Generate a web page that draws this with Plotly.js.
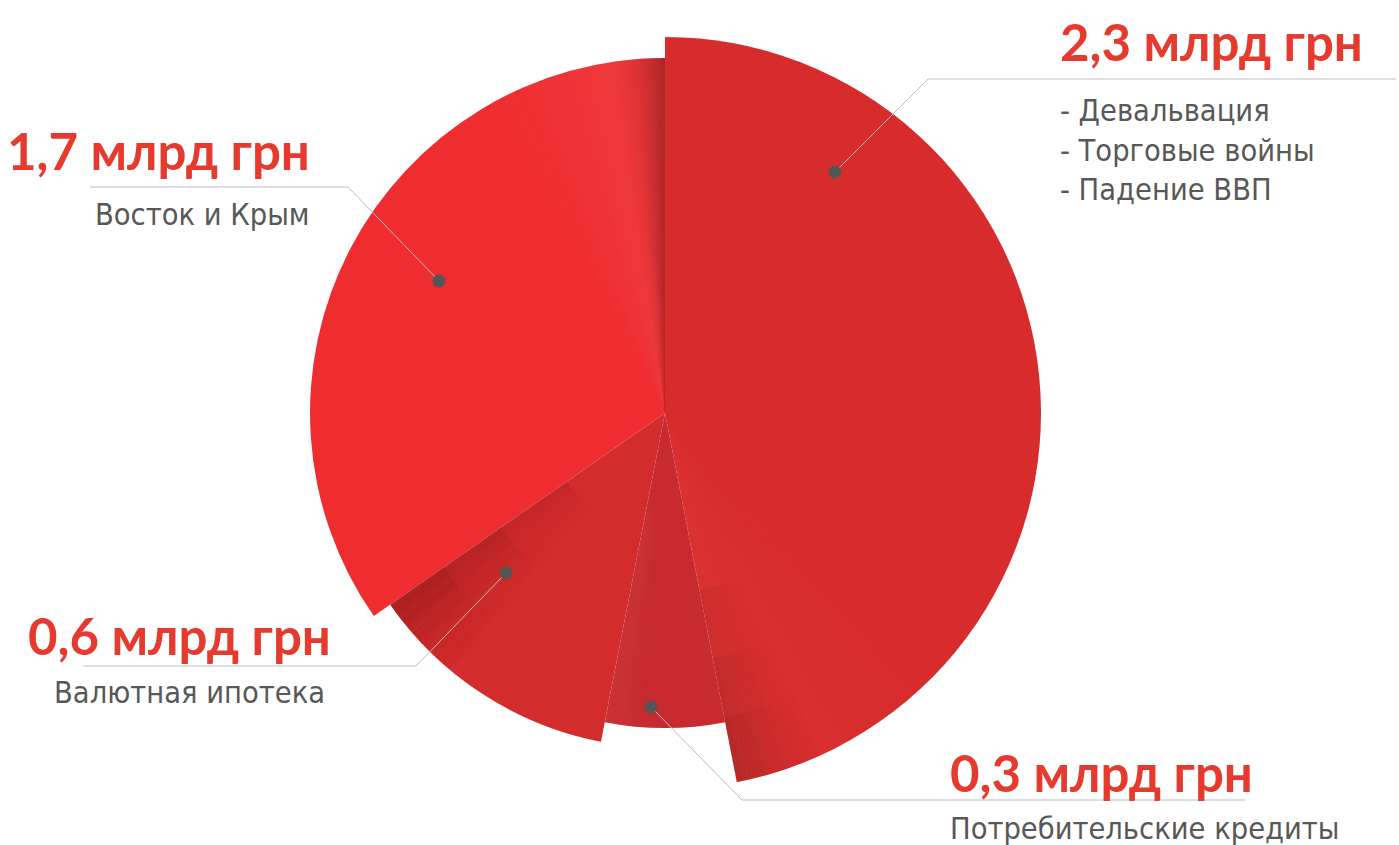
<!DOCTYPE html>
<html>
<head>
<meta charset="utf-8">
<script src="https://cdn.plot.ly/plotly-3.0.1.min.js"></script>
<style>
html,body{margin:0;padding:0;background:#fff;}
#chart{width:1399px;height:845px;}
</style>
</head>
<body>
<div id="chart"></div>
<script>
// ---- data ----
const categories = ['Девальвация, торговые войны, падение ВВП', 'Потребительские кредиты', 'Валютная ипотека', 'Восток и Крым'];
const values = [2.3, 0.3, 0.6, 1.7];
const valueLabels = ['2,3 млрд грн', '0,3 млрд грн', '0,6 млрд грн', '1,7 млрд грн'];
const subLabels = ['- Девальвация<br>- Торговые войны<br>- Падение ВВП', 'Потребительские кредиты', 'Валютная ипотека', 'Восток и Крым'];

// ---- style ----
const sliceRadius = [376, 315, 335, 355];
const sliceColors = ['#d82b2b', '#c72a2f', '#d32c2d', '#ef2d30'];
const W = 1399, H = 845;
const CX = 665, CY = 413, RMAX = 413;

const total = values.reduce((a, b) => a + b, 0);
const widths = values.map(v => v / total * 360);
const starts = [];
let acc = 0;
widths.forEach(w => { starts.push(acc); acc += w; });
const centers = starts.map((s, i) => s + widths[i] / 2);

const traces = [{
  type: 'barpolar',
  r: sliceRadius,
  theta: centers,
  width: widths,
  marker: { color: sliceColors, line: { width: 0 } },
  hoverinfo: 'text',
  text: categories.map((c, i) => c + ': ' + valueLabels[i]),
  showlegend: false
}];

// shading overlays derived from slice boundaries
function shade(sliceIdx, span, steps, maxOp, rBase, color, pw) {
  const th = [], w = [], op = [], r = [], base = [];
  const end = starts[sliceIdx] + widths[sliceIdx];
  const step = span / steps;
  for (let k = 0; k < steps; k++) {
    const a0 = end - span + k * step;
    th.push(a0 + step / 2);
    w.push(step * 1.02);
    op.push(maxOp * Math.pow((k + 1) / steps, pw || 1.6));
    r.push(sliceRadius[sliceIdx] - rBase);
    base.push(rBase);
  }
  return {
    type: 'barpolar', r: r, base: base, theta: th, width: w,
    marker: { color: color, opacity: op, line: { width: 0 } },
    hoverinfo: 'skip', showlegend: false
  };
}
// slice 4: lighter band then dark edge near the top boundary
traces.push(shade(3, 30, 30, 0.25, 0, '#f06a6a', 1));
traces.push(shade(3, 9, 18, 0.55, 0, '#7a1515', 1.8));
// slice 3 dark near boundary with slice 4 (outer part)
[120, 200, 270].forEach(b => traces.push(shade(2, 16, 20, 0.17, b, '#7a1515', 1.6)));
// slice 1 dark near its end (outer bottom)
[180, 250, 310].forEach(b => traces.push(shade(0, 14, 20, 0.15, b, '#7a1515', 1.6)));
// slice 1 light band near end
traces.push(shade(0, 40, 30, 0.10, 0, '#f07070', 1));
// slice 2 lighter left part
traces.push(shade(1, 8, 12, 0.15, 100, '#e06060', 1));

const px = x => x / W;
const py = y => 1 - y / H;

const leaders = [
  [[835, 172], [928, 79], [1396, 79]],
  [[651, 707], [742, 800], [1245, 800]],
  [[506, 573], [416, 666], [83, 666]],
  [[439, 281], [348, 187], [90, 187]]
];
const shapes = [];
leaders.forEach(pts => {
  const path = 'M' + pts.map(p => px(p[0]) + ',' + py(p[1])).join(' L');
  shapes.push({ type: 'path', xref: 'paper', yref: 'paper', path: path, line: { color: '#bdbdbd', width: 1 } });
  const d = pts[0], rr = 6.5;
  shapes.push({ type: 'circle', xref: 'paper', yref: 'paper',
    x0: px(d[0] - rr), x1: px(d[0] + rr), y0: py(d[1] + rr), y1: py(d[1] - rr),
    fillcolor: '#555555', line: { width: 0 } });
});

const redFont = { family: 'Lato, "Open Sans", sans-serif', size: 51, color: '#e63a2f', weight: 700 };
const grayFont = { family: '"Liberation Sans Narrow", "DejaVu Sans Condensed", sans-serif', size: 30.5, color: '#585858' };

const labelPos = [
  { big: [1058, 42, 'left'], sub: [1058, 150, 'left'] },
  { big: [948, 772, 'left'], sub: [948, 828, 'left'] },
  { big: [333, 635, 'right'], sub: [327, 692, 'right'] },
  { big: [312, 150, 'right'], sub: [312, 215, 'right'] }
];
const annotations = [];
labelPos.forEach((p, i) => {
  annotations.push({ xref: 'paper', yref: 'paper', x: px(p.big[0]), y: py(p.big[1]), xanchor: p.big[2], yanchor: 'middle',
    text: valueLabels[i], showarrow: false, font: redFont, align: p.big[2] });
  annotations.push({ xref: 'paper', yref: 'paper', x: px(p.sub[0]), y: py(p.sub[1]), xanchor: p.sub[2], yanchor: 'middle',
    text: subLabels[i], showarrow: false, font: grayFont, align: p.sub[2] });
});

const layout = {
  width: W, height: H,
  margin: { l: 0, r: 0, t: 0, b: 0 },
  paper_bgcolor: '#ffffff',
  showlegend: false,
  polar: {
    domain: { x: [(CX - RMAX) / W, (CX + RMAX) / W], y: [1 - (CY + RMAX) / H, 1 - (CY - RMAX) / H] },
    bgcolor: 'rgba(0,0,0,0)',
    bargap: 0,
    barmode: 'overlay',
    radialaxis: { range: [0, RMAX], visible: false, showgrid: false, showline: false, showticklabels: false, ticks: '' },
    angularaxis: { rotation: 90, direction: 'clockwise', visible: false, showgrid: false, showline: false, showticklabels: false, ticks: '' }
  },
  shapes: shapes,
  annotations: annotations
};

Plotly.newPlot('chart', traces, layout, { displayModeBar: false, staticPlot: true });
</script>
</body>
</html>
